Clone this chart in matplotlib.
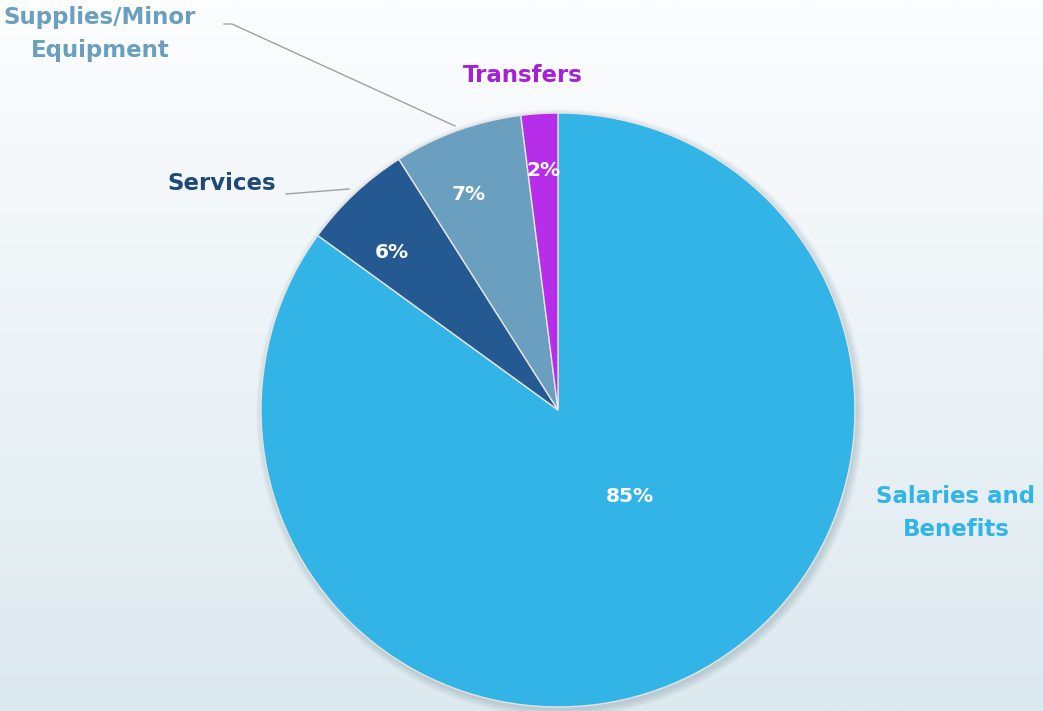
import numpy as np
import matplotlib
matplotlib.use('Agg')
import matplotlib.pyplot as plt
from matplotlib.colors import LinearSegmentedColormap
from matplotlib.patches import Circle

# data
categories = ['Salaries and\nBenefits', 'Services', 'Supplies/Minor\nEquipment', 'Transfers']
shares = [85, 6, 7, 2]
colors = ['#33B4E6', '#245A91', '#6A9FBF', '#B62EEA']
text_colors = ['#33B4E6', '#1F4A78', '#6A9FBF', '#A322D6']

W, H = 1043, 711


def px(x, y):
    # image pixel coords -> data coords (y up)
    return x, H - y


fig = plt.figure(figsize=(W / 100, H / 100), dpi=100)
ax = fig.add_axes([0, 0, 1, 1])

# background gradient
cmap = LinearSegmentedColormap.from_list('bg', ['#DCE9EF', '#FCFDFE'])
grad = np.linspace(0, 1, 256).reshape(-1, 1)
ax.imshow(grad, extent=[0, W, 0, H], cmap=cmap, aspect='auto', origin='lower', zorder=0)

cx, cy = px(558, 410)
R = 297

# soft shadow, a bit to the lower right
for k in range(8):
    ax.add_patch(Circle((cx + 2, cy - 3), R + k, color='#5F7A88', alpha=0.035, lw=0, zorder=1))

wedges, _, autotexts = ax.pie(shares, colors=colors, startangle=90, counterclock=False,
                              center=(cx, cy), radius=R, autopct='%1.0f%%', pctdistance=0.78,
                              wedgeprops={'edgecolor': '#E4E4E4', 'linewidth': 1},
                              textprops={'color': 'white', 'fontsize': 14.5, 'fontweight': 'bold'},
                              frame=True)
for w in wedges:
    w.set_zorder(2)
# percent label spots (as placed in the original)
pct_pos = [(630, 497), (392, 252), (469, 195), (543, 171)]
for t, p in zip(autotexts, pct_pos):
    t.set_zorder(3)
    t.set_position(px(*p))

ax.set_xlim(0, W)
ax.set_ylim(0, H)
ax.axis('off')

font = {'fontsize': 16.5, 'fontweight': 'bold', 'ha': 'center', 'va': 'center', 'linespacing': 1.6}
ax.text(*px(956, 513), categories[0], color=text_colors[0], **font)
ax.text(*px(222, 184), categories[1], color=text_colors[1], **font)
ax.text(*px(100, 34), categories[2], color=text_colors[2], **font)
ax.text(*px(523, 76), categories[3], color=text_colors[3], **font)

# leader lines
ax.plot(*zip(px(286, 194), px(349, 189)), color='#A0A0A0', lw=1, zorder=3)
ax.plot(*zip(px(224, 24), px(232, 24), px(455, 126)), color='#A0A0A0', lw=1, zorder=3)

fig.savefig('out.png', dpi=100)
